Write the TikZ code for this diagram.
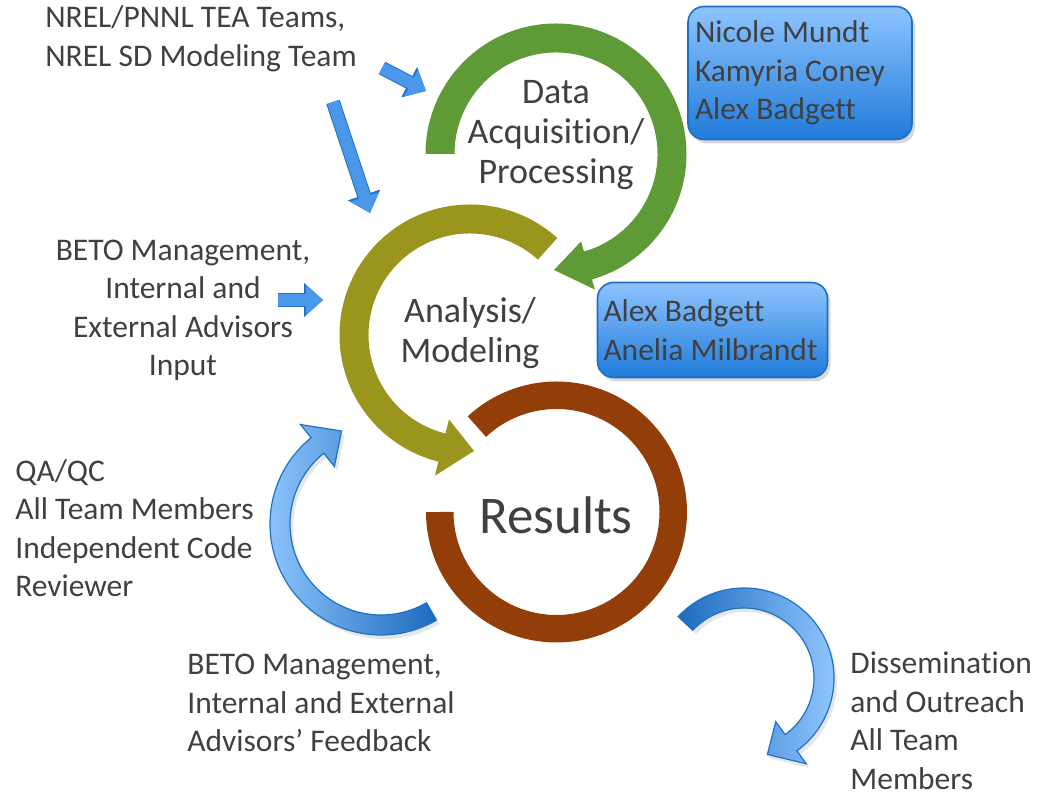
\documentclass[tikz,border=0pt]{standalone}
\usepackage{fontspec}
\setmainfont{Carlito}[Ligatures=NoCommon]
\usetikzlibrary{calc,arrows.meta,shadows}

\definecolor{dataGreen}{HTML}{5E9B37}
\definecolor{modelOlive}{HTML}{9A951D}
\definecolor{resultBrown}{HTML}{933D08}
\definecolor{textGray}{HTML}{404040}
\definecolor{boxTop}{HTML}{8EC4FF}
\definecolor{boxBottom}{HTML}{1F7BDA}
\definecolor{boxEdge}{HTML}{1E6FBF}
\definecolor{arrowLight}{HTML}{93C8FF}
\definecolor{arrowBlue}{HTML}{4B97EA}
\definecolor{arrowDark}{HTML}{1D6BBE}
\definecolor{arrowEdge}{HTML}{1F72C6}

% style, centre, radius, half width, head half width, start, end, tip
\newcommand{\bentarrow}[8]{%
  \path[#1] ($(#2)+(#6:#3+#4)$) arc[start angle=#6, end angle=#7, radius=#3+#4]
    -- ($(#2)+(#7:#3+#5)$) -- ($(#2)+(#8:#3)$) -- ($(#2)+(#7:#3-#5)$)
    -- ($(#2)+(#7:#3-#4)$) arc[start angle=#7, end angle=#6, radius=#3-#4] -- cycle;}

\begin{document}
\begin{tikzpicture}[x=0.5pt, y=-0.5pt, font=\fontsize{15.75}{19.25}\selectfont, text=textGray]
    \tikzstyle{note} = [align=left, inner sep=0pt, anchor=west]
    \tikzstyle{ringtext} = [align=center, inner sep=0pt, font=\fontsize{18}{20}\selectfont]
    \tikzstyle{namebox} = [rectangle, rounded corners=8pt, draw=boxEdge, line width=0.8pt,
        top color=boxTop, bottom color=boxBottom, align=flush left, inner xsep=3pt,
        drop shadow={opacity=0.3, shadow xshift=1.5pt, shadow yshift=-2pt}]
    \tikzstyle{feed} = [draw=arrowBlue, line width=6pt, -{Triangle[width=14.5pt,length=8.5pt]},
        preaction={draw=arrowEdge, line width=7pt, -{Triangle[width=16.5pt,length=9.5pt]}}]
    \tikzstyle{loop} = [draw=arrowEdge, line width=0.6pt,
        drop shadow={opacity=0.2, shadow xshift=1.5pt, shadow yshift=-2pt}]

    \useasboundingbox (0,0) rectangle (1039,795);

    \coordinate (dataC) at (556,154);
    \coordinate (analysisC) at (470,335);
    \coordinate (resultsC) at (556.5,512);
    \coordinate (reviewC) at (381,524);
    \coordinate (outC) at (744,678);

    % the three rings
    \bentarrow{fill=dataGreen}{dataC}{116}{14.5}{25}{180}{434}{451}
    \bentarrow{fill=modelOlive}{analysisC}{116}{14.5}{29}{-48}{-256}{-272}
    \draw[line width=13.75pt, resultBrown] ($(resultsC)+(180:116.75)$)
        arc[start angle=180, end angle=-133, radius=116.75];

    \node(data) [ringtext] at (556,135) {Data\\Acquisition/\\Processing};
    \node(analysis) [ringtext] at (470,333) {Analysis/\\Modeling};
    \node(results) [font=\fontsize{26.5}{30}\selectfont, inner sep=0pt] at (556,515) {Results};

    % feedback loops
    \bentarrow{loop, left color=arrowLight, right color=arrowDark}{reviewC}{101}{10}{27}{60}{231}{247}
    \bentarrow{loop, left color=arrowDark, right color=arrowLight}{outC}{80}{10}{26}{-137}{54}{73}

    % inputs
    \coordinate (nrelTail) at (382,68);
    \coordinate (nrelTip) at (426,91);
    \coordinate (longTail) at (333,102);
    \coordinate (longTip) at (370,213);
    \coordinate (inputTail) at (278,300);
    \coordinate (inputTip) at (323,300);
    \draw[feed] (nrelTail) -- (nrelTip);
    \draw[feed] (longTail) -- (longTip);
    \draw[feed] (inputTail) -- (inputTip);

    \node(dataTeam) [namebox, minimum width=112pt, minimum height=66.5pt, text width=105pt]
        at (800,73) {Nicole Mundt\\Kamyria Coney\\Alex Badgett};
    \node(modelTeam) [namebox, minimum width=114.5pt, minimum height=47.5pt, text width=109pt]
        at (712.5,330) {Alex Badgett\\Anelia Milbrandt};

    \node(nrel) [note] at (45,39) {NREL/PNNL TEA Teams,\\NREL SD Modeling Team};
    \node(input) [align=center, inner sep=0pt] at (183,310.5)
        {BETO Management,\\Internal and\\External Advisors\\Input};
    \node(qaqc) [note] at (15,528) {QA/QC\\All Team Members\\Independent Code\\Reviewer};
    \node(feedback) [note] at (187,703) {BETO Management,\\Internal and External\\Advisors’ Feedback};
    \node(outreach) [note] at (850,721) {Dissemination\\and Outreach\\All Team\\Members};
\end{tikzpicture}
\end{document}
